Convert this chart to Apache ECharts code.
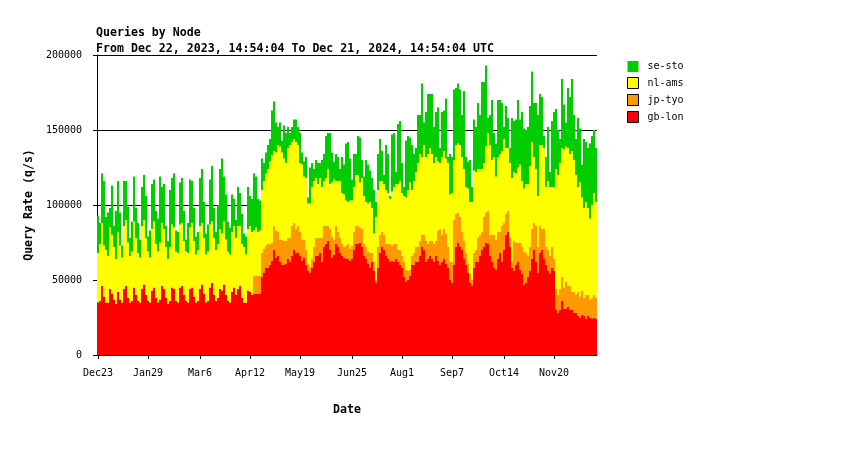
<!DOCTYPE html>
<html><head><meta charset="utf-8">
<script src="https://cdn.jsdelivr.net/npm/echarts@6/dist/echarts.min.js"></script>
<style>html,body{margin:0;padding:0;background:#fff;}#c{width:850px;height:450px;}</style>
</head><body><div id="c"></div>
<script>
// values in thousands of queries per second, ~1.46-day samples from Dec 22, 2023 to Dec 21, 2024
const gbLon = [
35,36,46,39,35,35,44,41,37,34, 42,37,35,44,46,38,35,36,45,40, 36,35,44,47,40,36,35,43,45,38,
35,37,46,44,38,34,36,45,44,36, 35,45,46,40,36,35,44,45,39,35, 36,44,47,41,35,36,45,48,40,36,
38,44,43,47,40,36,35,42,45,40, 44,46,38,35,35,43,42,40,41,41, 41,41,52,55,58,58,60,63,70,65,
66,62,60,60,61,64,62,66,70,68, 68,66,63,65,60,56,55,58,62,66, 66,68,62,72,74,76,70,65,67,74,
72,68,66,65,64,64,63,64,70,74, 74,75,72,66,64,61,58,62,56,48, 58,68,72,70,66,64,62,63,62,64,
62,60,58,52,49,50,53,60,60,62, 62,66,72,70,62,64,66,64,62,66, 63,60,62,64,61,58,50,48,60,72,
75,72,70,64,60,55,48,46,58,62, 62,66,70,72,75,74,66,62,58,57, 64,68,62,70,80,82,72,58,56,60,
62,57,54,47,48,52,56,64,70,62, 55,68,70,64,60,56,54,58,56,30, 28,30,36,31,31,32,30,30,28,28,
26,25,27,26,24,26,25,24,25,24];
const jpTyo = [
0,0,0,0,0,0,0,0,0,0, 0,0,0,0,0,0,0,0,0,0, 0,0,0,0,0,0,0,0,0,0,
0,0,0,0,0,0,0,0,0,0, 0,0,0,0,0,0,0,0,0,0, 0,0,0,0,0,0,0,0,0,0,
0,0,0,0,0,0,0,0,0,0, 0,0,0,0,0,0,0,0,12,12, 12,12,16,16,15,16,14,12,16,18,
16,15,17,16,15,14,16,20,18,16, 18,16,14,12,10,5,4,6,10,12, 12,10,16,14,12,10,14,14,10,12,
10,10,8,7,9,10,8,9,12,12, 12,10,12,8,8,8,10,6,6,2, 14,12,10,10,8,10,12,10,12,10,
8,10,8,10,8,6,4,6,8,10, 10,10,8,10,14,10,10,12,12,10, 20,24,18,20,20,14,12,14,30,22,
20,20,12,12,8,6,6,4,10,8, 16,14,12,20,20,22,14,18,22,20, 18,14,24,18,14,14,6,4,20,15,
13,18,18,22,20,14,16,20,18,24, 17,18,14,20,12,14,12,14,8,14, 12,14,16,14,18,14,16,12,14,12,
16,14,16,12,16,14,12,14,15,14];
const nlAms = [
33,38,42,34,35,31,41,39,35,30, 40,36,30,42,44,37,31,33,44,38, 32,30,42,43,38,33,30,41,44,36,
34,38,42,40,34,30,36,42,41,33, 33,42,42,36,33,33,41,43,37,32, 34,42,41,37,32,33,42,41,38,34,
36,40,38,42,37,33,32,40,41,38, 42,40,36,37,32,41,44,42,30,32, 29,30,42,45,48,50,55,58,50,52,
58,62,58,55,52,60,62,56,56,58, 54,46,50,42,48,40,42,48,44,40, 36,40,34,30,32,38,30,36,40,30,
34,38,34,35,30,28,32,30,30,34, 34,30,34,32,30,32,34,30,19,42, 38,36,34,34,36,34,30,36,38,40,
44,46,42,44,48,54,58,44,48,50, 56,58,52,60,56,60,62,58,54,56, 46,44,52,52,50,56,45,46,40,46,
46,48,50,48,44,50,48,52,55,52, 46,44,42,36,44,52,60,50,52,42, 50,52,50,56,44,42,50,56,46,46,
50,52,44,42,46,48,54,58,44,38, 34,54,56,54,40,46,46,40,48,80, 80,84,86,92,90,92,88,94,88,80,
70,76,62,60,62,58,54,62,68,64];
const seSto = [
25,14,33,43,22,29,13,33,14,32, 34,22,8,30,26,24,12,20,30,20, 20,12,26,30,28,10,18,30,28,22,
22,44,24,30,14,12,38,31,36,14, 14,28,30,20,8,20,32,28,22,12, 12,32,36,24,14,18,30,37,20,12,
26,40,50,30,30,20,18,25,18,12, 26,22,20,9,12,28,20,22,38,34, 22,20,21,12,14,16,15,30,33,20,
12,16,8,22,20,14,8,10,13,15, 12,20,8,10,14,4,24,16,8,12, 14,10,18,18,28,24,34,20,12,18,
16,8,24,20,38,40,28,14,22,14, 26,30,12,13,28,26,21,20,29,10, 24,28,20,6,30,26,2,38,36,8,
40,40,20,6,38,36,30,30,18,16, 32,26,49,15,30,40,36,40,24,30, 36,10,30,27,40,4,27,24,47,38,
40,37,28,52,20,18,28,10,34,30, 44,36,58,54,54,10,20,40,16,22, 38,36,32,8,28,20,10,40,34,36,
45,30,46,40,36,38,40,47,36,44, 54,34,32,8,20,36,10,44,50,40, 30,16,46,30,16,40,38,48,30,24,
46,36,22,46,40,40,50,46,42,36];

const seriesNames = ['gb-lon', 'jp-tyo', 'nl-ams', 'se-sto'];
const seriesColors = ['#FF0000', '#FF9900', '#FFFF00', '#00CC00'];
const tickLabels = ['Dec23', 'Jan29', 'Mar6', 'Apr12', 'May19', 'Jun25', 'Aug1', 'Sep7', 'Oct14', 'Nov20'];
const tickDays = 37;
const spanDays = 365;
const unit = 1000;

const allSeries = [gbLon, jpTyo, nlAms, seSto];
const nPts = gbLon.length;
const dayStep = spanDays / nPts;
const categories = gbLon.map((v, i) => String(i));
// sample index closest to each labelled date
const tickIndex = {};
tickLabels.forEach((lab, k) => { tickIndex[Math.round(k * tickDays / dayStep)] = lab; });
const isTick = (idx) => Object.prototype.hasOwnProperty.call(tickIndex, idx);
const mono = "'DejaVu Sans Mono', 'Liberation Mono', monospace";

const chart = echarts.init(document.getElementById('c'), null, {renderer: 'canvas'});
chart.setOption({
  animation: false,
  backgroundColor: '#fff',
  title: {
    text: 'Queries by Node\nFrom Dec 22, 2023, 14:54:04 To Dec 21, 2024, 14:54:04 UTC',
    left: 96, top: 25, padding: 0,
    textStyle: {fontFamily: mono, fontSize: 11.6, fontWeight: 'bold', color: '#000', lineHeight: 16}
  },
  legend: {
    orient: 'vertical', left: 627, top: 61, padding: 0,
    itemWidth: 11, itemHeight: 11, itemGap: 5, icon: 'rect',
    textStyle: {fontFamily: mono, fontSize: 10, color: '#000', padding: [0, 0, 0, 4]},
    data: [
      {name: 'se-sto', itemStyle: {color: '#00CC00', borderWidth: 0}},
      {name: 'nl-ams', itemStyle: {color: '#FFFF00', borderColor: '#000', borderWidth: 1}},
      {name: 'jp-tyo', itemStyle: {color: '#FF9900', borderColor: '#000', borderWidth: 1}},
      {name: 'gb-lon', itemStyle: {color: '#FF0000', borderColor: '#000', borderWidth: 1}}
    ]
  },
  grid: {left: 97, right: 253, top: 55, bottom: 95, containLabel: false},
  xAxis: {
    type: 'category', data: categories, boundaryGap: true,
    name: 'Date', nameLocation: 'middle', nameGap: 49,
    nameTextStyle: {fontFamily: mono, fontSize: 11.6, fontWeight: 'bold', color: '#000'},
    axisLine: {show: true, lineStyle: {color: '#000', width: 1}},
    axisTick: {show: true, length: 4, alignWithLabel: true, interval: (idx) => isTick(idx), lineStyle: {color: '#000'}},
    axisLabel: {
      fontFamily: mono, fontSize: 10, color: '#000', margin: 13,
      interval: (idx) => isTick(idx),
      formatter: (v, idx) => tickIndex[idx] || ''
    },
    splitLine: {show: false}
  },
  yAxis: {
    type: 'value', min: 0, max: 200000, interval: 50000,
    name: 'Query Rate (q/s)', nameLocation: 'middle', nameGap: 58, nameRotate: 90,
    nameTextStyle: {fontFamily: mono, fontSize: 11.6, fontWeight: 'bold', color: '#000'},
    axisLine: {show: true, lineStyle: {color: '#000', width: 1}},
    axisTick: {show: true, length: 4, lineStyle: {color: '#000'}},
    axisLabel: {fontFamily: mono, fontSize: 10, color: '#000', margin: 15, formatter: v => String(v)},
    splitLine: {show: true, lineStyle: {color: '#000', width: 1}}
  },
  series: allSeries.map((arr, s) => ({
    name: seriesNames[s],
    type: 'bar',
    stack: 'total',
    barCategoryGap: '0%',
    barGap: '0%',
    itemStyle: {color: seriesColors[s], borderWidth: 0},
    emphasis: {disabled: true},
    data: arr.map(v => v * unit)
  }))
});
</script>
</body></html>
